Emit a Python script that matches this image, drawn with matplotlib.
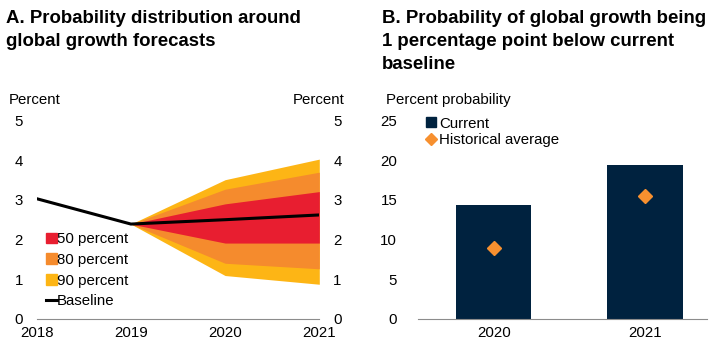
import matplotlib
matplotlib.use("Agg")
import matplotlib.pyplot as plt
from matplotlib.patches import Patch
from matplotlib.lines import Line2D

plt.rcParams['font.family'] = ['Liberation Sans', 'DejaVu Sans']
plt.rcParams['font.size'] = 10.8

# panel A data
years = [2018, 2019, 2020, 2021]
baseline = [3.03, 2.39, 2.50, 2.62]
fan_years = [2019, 2020, 2021]
p90_hi = [2.39, 3.51, 4.03]
p80_hi = [2.39, 3.27, 3.70]
p50_hi = [2.39, 2.90, 3.21]
p50_lo = [2.39, 1.91, 1.91]
p80_lo = [2.39, 1.40, 1.26]
p90_lo = [2.39, 1.09, 0.87]

# panel B data
bar_years = ['2020', '2021']
current = [14.4, 19.4]
hist_avg = [8.9, 15.5]

RED = '#E81E30'
ORANGE = '#F58B2D'
YELLOW = '#FDB515'
NAVY = '#00223F'
GREY = '#8C8C8C'
FS = 10.8
TFS = 13.4

W, H = 710, 346
fig = plt.figure(figsize=(W / 100, H / 100), dpi=100)


def box(x0, x1, y0, y1):
    # pixel box -> figure fraction
    return [x0 / W, 1 - y1 / H, (x1 - x0) / W, (y1 - y0) / H]


def clean(ax):
    for s in ax.spines.values():
        s.set_visible(False)
    ax.spines['bottom'].set_visible(True)
    ax.spines['bottom'].set_color(GREY)
    ax.spines['bottom'].set_linewidth(0.8)
    ax.tick_params(length=0)


# ---- panel A ----
ax1 = fig.add_axes(box(36.7, 319.3, 120.7, 318.7))
clean(ax1)
ax1.fill_between(fan_years, p90_lo, p90_hi, color=YELLOW, lw=0)
ax1.fill_between(fan_years, p80_lo, p80_hi, color=ORANGE, lw=0)
ax1.fill_between(fan_years, p50_lo, p50_hi, color=RED, lw=0)
ax1.plot(years, baseline, color='black', lw=2.2)
ax1.set_xlim(2018, 2021)
ax1.set_ylim(0, 5)
ax1.set_xticks(years)
ax1.set_yticks(range(6))
ax1.tick_params(axis='y', pad=10, labelleft=True, labelright=True)
ax1.tick_params(axis='x', pad=5)

handles = [Patch(color=RED), Patch(color=ORANGE), Patch(color=YELLOW),
           Line2D([], [], color='black', lw=2.2)]
labels = ['50 percent', '80 percent', '90 percent', 'Baseline']
fig.legend(handles, labels, loc='upper left', bbox_to_anchor=(46 / W, 1 - 232 / H),
           frameon=False, borderpad=0, borderaxespad=0, handlelength=0.7,
           handleheight=0.7, handletextpad=0.05, labelspacing=0.45, fontsize=FS)

fig.text(9 / W, 1 - 100 / H, 'Percent', va='center', ha='left', fontsize=FS)
fig.text(345 / W, 1 - 100 / H, 'Percent', va='center', ha='right', fontsize=FS)
fig.text(6 / W, 1 - 10 / H, 'A. Probability distribution around\nglobal growth forecasts',
         va='top', ha='left', fontsize=TFS, fontweight='bold', linespacing=1.45)

# ---- panel B ----
ax2 = fig.add_axes(box(418, 707, 120.7, 318.7))
clean(ax2)
xs = range(len(bar_years))
ax2.bar(xs, current, width=0.5, color=NAVY)
ax2.plot(xs, hist_avg, ls='none', marker='D', ms=7.5, color='#F7902F')
ax2.set_xlim(-0.5, 1.41)
ax2.set_ylim(0, 25)
ax2.set_xticks(list(xs))
ax2.set_xticklabels(bar_years)
ax2.set_yticks(range(0, 26, 5))
ax2.tick_params(axis='y', pad=15)
ax2.tick_params(axis='x', pad=5)

handles2 = [Line2D([], [], ls='none', marker='s', ms=7, color=NAVY),
            Line2D([], [], ls='none', marker='D', ms=6, color='#F7902F')]
fig.legend(handles2, ['Current', 'Historical average'], loc='upper left',
           bbox_to_anchor=(426 / W, 1 - 116.5 / H), frameon=False, borderpad=0,
           borderaxespad=0, handlelength=0.7, handletextpad=0.15,
           labelspacing=0.16, fontsize=FS)

fig.text(386 / W, 1 - 100 / H, 'Percent probability', va='center', ha='left', fontsize=FS)
fig.text(382 / W, 1 - 10 / H,
         'B. Probability of global growth being\n1 percentage point below current\nbaseline',
         va='top', ha='left', fontsize=TFS, fontweight='bold', linespacing=1.45)

fig.savefig('out.png', dpi=100)
